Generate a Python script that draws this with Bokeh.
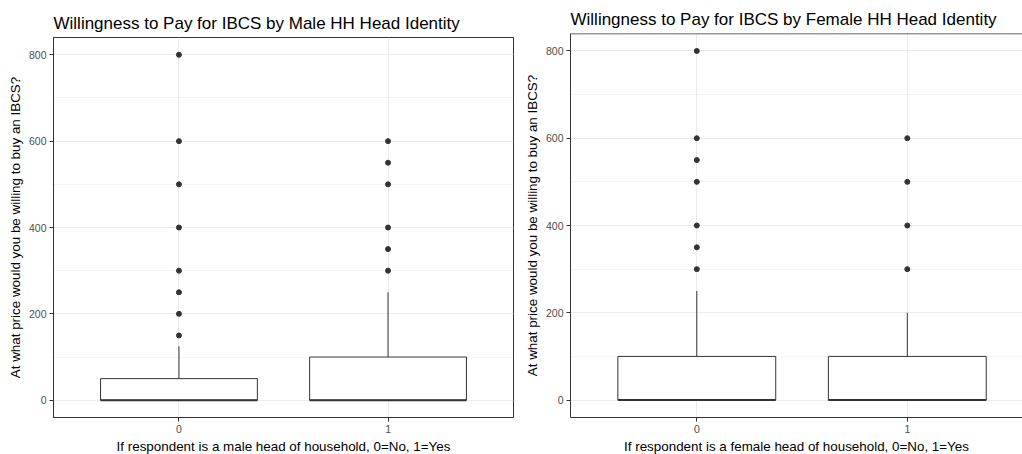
from bokeh.plotting import figure
from bokeh.layouts import row
from bokeh.models import Range1d, FixedTicker, SingleIntervalTicker, Span
from bokeh.embed import file_html
from bokeh.resources import INLINE

# ---------------- data ----------------
categories = ["0", "1"]

# Male HH head panel
male_q1 = [0, 0]
male_median = [0, 0]
male_q3 = [50, 100]
male_whisker_low = [0, 0]
male_whisker_high = [125, 250]
male_outliers_0 = [150, 200, 250, 300, 400, 500, 600, 800]
male_outliers_1 = [300, 350, 400, 500, 550, 600]

# Female HH head panel
female_q1 = [0, 0]
female_median = [0, 0]
female_q3 = [100, 100]
female_whisker_low = [0, 0]
female_whisker_high = [250, 200]
female_outliers_0 = [300, 350, 400, 500, 550, 600, 800]
female_outliers_1 = [300, 400, 500, 600]

titles = ["Willingness to Pay for IBCS by Male HH Head Identity",
          "Willingness to Pay for IBCS by Female HH Head Identity"]
x_labels = ["If respondent is a male head of household, 0=No, 1=Yes",
            "If respondent is a female head of household, 0=No, 1=Yes"]
y_label = "At what price would you be willing to buy an IBCS?"

FONT = "Liberation Sans"
GREY20 = "#333333"
GREY30 = "#4D4D4D"
GRID = "#EBEBEB"
BOX_W = 0.75


def make_panel(title, xlab, q1, med, q3, wlo, whi, outs, frame_w, frame_h,
               border_left, border_top, border_right, x_end, full_border):
    xs = list(range(len(categories)))
    p = figure(frame_width=frame_w, frame_height=frame_h,
               x_range=Range1d(-0.6, x_end), y_range=Range1d(-40, 840),
               output_backend="svg", toolbar_location=None,
               min_border_left=border_left, min_border_top=border_top,
               min_border_right=border_right, min_border_bottom=37,
               background_fill_color="white", border_fill_color="white")
    p.frame_align = False
    p.title.text = title
    p.title.text_font = FONT
    p.title.text_font_size = "17px"
    p.title.text_font_style = "normal"
    p.title.text_color = "black"
    p.title.align = "left"
    p.title.standoff = 9

    # axes
    p.xaxis.ticker = FixedTicker(ticks=xs)
    p.xaxis.major_label_overrides = {i: c for i, c in enumerate(categories)}
    p.yaxis.ticker = SingleIntervalTicker(interval=200, num_minor_ticks=2)
    for ax in (p.xaxis, p.yaxis):
        ax.major_label_text_font = FONT
        ax.major_label_text_font_size = "10.5px"
        ax.major_label_text_color = GREY30
        ax.axis_label_text_font = FONT
        ax.axis_label_text_font_size = "13.4px"
        ax.axis_label_text_font_style = "normal"
        ax.axis_label_text_color = "black"
        ax.major_tick_line_color = GREY20
        ax.major_tick_out = 4
        ax.major_tick_in = 0
        ax.minor_tick_line_color = None
        ax.major_label_standoff = 3
        ax.axis_line_color = GREY20
    p.xaxis.axis_label = xlab
    p.yaxis.axis_label = y_label
    p.xaxis.axis_label_standoff = 3
    p.yaxis.axis_label_standoff = 3

    # grid
    p.xgrid.grid_line_color = GRID
    p.ygrid.grid_line_color = GRID
    p.ygrid.minor_grid_line_color = GRID
    p.ygrid.minor_grid_line_width = 0.5

    if full_border:
        p.outline_line_color = GREY20
        p.outline_line_width = 1
    else:
        p.outline_line_color = None
        p.add_layout(Span(location=840, dimension="width",
                          line_color=GREY20, line_width=1.5))

    # whiskers
    p.segment(x0=xs, y0=q3, x1=xs, y1=whi, line_color=GREY20, line_width=1)
    p.segment(x0=xs, y0=q1, x1=xs, y1=wlo, line_color=GREY20, line_width=1)
    # boxes
    p.vbar(x=xs, width=BOX_W, bottom=q1, top=q3, fill_color="white",
           line_color=GREY20, line_width=1)
    # medians
    p.segment(x0=[x - BOX_W / 2 for x in xs], y0=med,
              x1=[x + BOX_W / 2 for x in xs], y1=med,
              line_color=GREY20, line_width=2)
    # outliers
    for i, o in enumerate(outs):
        p.scatter(x=[xs[i]] * len(o), y=o, size=5, fill_color=GREY20,
                  line_color=GREY20)
    return p


p1 = make_panel(titles[0], x_labels[0], male_q1, male_median, male_q3,
                male_whisker_low, male_whisker_high,
                [male_outliers_0, male_outliers_1],
                frame_w=460, frame_h=380, border_left=53, border_top=37,
                border_right=7, x_end=1.6, full_border=True)

p2 = make_panel(titles[1], x_labels[1], female_q1, female_median, female_q3,
                female_whisker_low, female_whisker_high,
                [female_outliers_0, female_outliers_1],
                frame_w=452, frame_h=384, border_left=50, border_top=33,
                border_right=0, x_end=-0.6 + 452 / 210.5, full_border=False)

layout = row(p1, p2, spacing=0)
open("out.html", "w").write(file_html(layout, INLINE))
